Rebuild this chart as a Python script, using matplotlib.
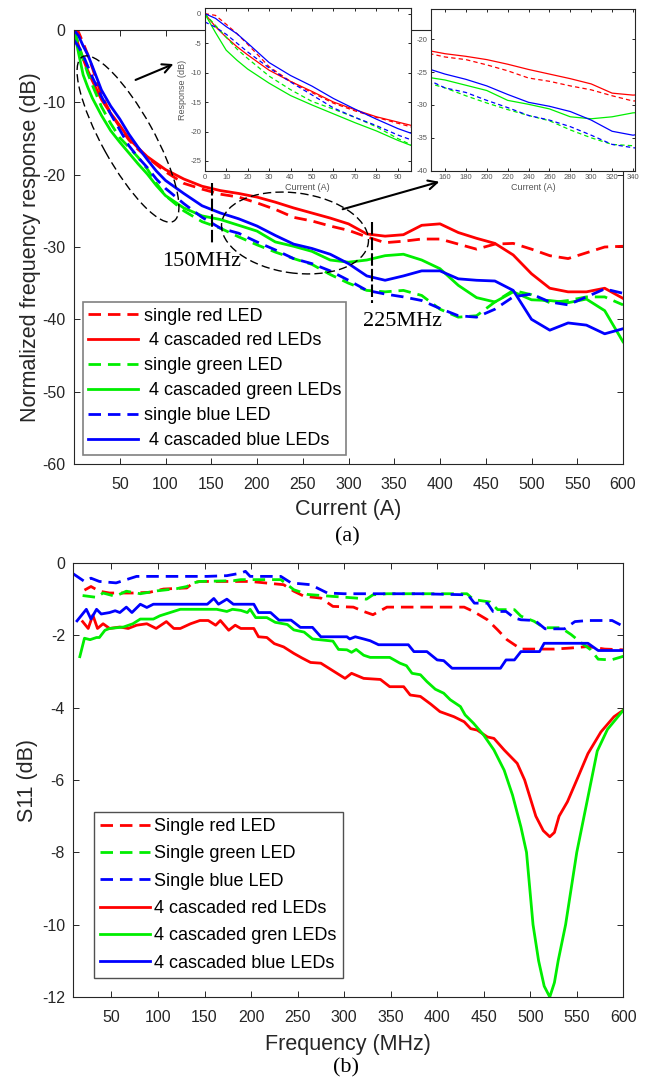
import matplotlib.pyplot as plt
from matplotlib.patches import Ellipse, FancyArrowPatch

plt.rcParams['font.family'] = ['Liberation Sans', 'DejaVu Sans']
plt.rcParams['axes.unicode_minus'] = False

# (a) normalized frequency response, common x grid
current = [0, 5, 10, 15, 20, 30, 40, 50, 60, 70, 80, 90, 100, 120, 140, 160, 180, 200,
           220, 240, 260, 280, 300, 320, 340, 360, 380, 400, 420, 440, 460, 480, 500,
           520, 540, 560, 580, 600]
red_single = [0, -0.3, -1.8, -3.4, -5.2, -9.0, -11.5, -13.4, -15.2, -16.5, -17.6, -18.6,
              -19.6, -21.2, -22.0, -22.7, -23.1, -23.9, -24.8, -25.9, -26.4, -27.1, -27.7,
              -28.6, -29.4, -29.2, -28.9, -28.9, -29.6, -30.3, -29.6, -29.5, -30.3, -31.2,
              -31.6, -30.8, -30.0, -29.9]
red_casc = [0, -2.2, -4.0, -5.6, -7.0, -9.6, -11.5, -13.2, -15.0, -16.3, -17.5, -18.4,
            -19.3, -20.6, -21.6, -22.2, -22.6, -23.1, -23.8, -24.6, -25.3, -26.0, -26.8,
            -28.2, -28.5, -28.3, -27.0, -26.8, -28.0, -28.8, -29.5, -31.1, -33.7, -35.7,
            -36.2, -36.2, -35.7, -37.1]
green_single = [0, -2.0, -4.0, -6.0, -7.6, -10.6, -12.9, -14.9, -16.2, -17.6, -19.2, -21.2,
                -22.9, -25.0, -26.5, -27.4, -28.6, -29.7, -30.7, -31.6, -32.4, -33.8, -35.0,
                -36.0, -36.2, -36.0, -36.7, -38.6, -39.7, -39.5, -37.6, -36.0, -36.6, -37.7,
                -37.4, -36.9, -36.9, -38.0]
green_casc = [0, -3.2, -6.2, -7.9, -9.4, -11.8, -13.9, -15.5, -17.0, -18.5, -19.9, -21.5,
              -22.9, -24.6, -25.7, -26.2, -27.0, -27.8, -29.3, -29.9, -30.6, -31.8, -32.1,
              -31.8, -31.2, -31.0, -31.8, -33.0, -35.3, -37.0, -37.6, -36.2, -37.3, -37.4,
              -37.7, -37.2, -38.8, -43.1]
blue_single = [-1.4, -2.3, -3.5, -5.0, -6.5, -9.2, -11.6, -13.8, -16.0, -17.6, -19.0, -20.6,
               -21.9, -24.0, -25.9, -27.4, -28.1, -29.3, -30.4, -31.6, -32.3, -33.3, -34.6,
               -36.0, -36.5, -36.9, -37.4, -38.5, -39.5, -39.7, -38.6, -36.9, -36.5, -37.6,
               -38.0, -36.9, -35.8, -36.4]
blue_casc = [0, -0.8, -2.2, -3.4, -5.0, -8.3, -10.5, -12.3, -14.4, -16.2, -17.9, -19.5,
             -20.8, -22.6, -24.3, -25.3, -26.1, -27.1, -28.4, -29.6, -30.2, -31.0, -32.3,
             -34.0, -34.6, -34.0, -33.3, -33.3, -34.4, -34.6, -34.7, -36.0, -40.0, -41.5,
             -40.5, -40.8, -42.0, -41.3]

# (b) S11
f_red_single = [21, 28, 37, 48, 73, 91, 106, 131, 138, 145, 199, 235, 246, 257, 275, 288,
                310, 321, 331, 346, 429, 439, 454, 465, 475, 490, 526, 544, 562, 580, 600]
s_red_single = [-0.75, -0.65, -0.78, -0.83, -0.83, -0.81, -0.72, -0.69, -0.54, -0.51, -0.51,
                -0.60, -0.78, -0.92, -0.97, -1.20, -1.22, -1.34, -1.43, -1.22, -1.22, -1.34,
                -1.57, -1.85, -2.12, -2.38, -2.38, -2.35, -2.31, -2.38, -2.40]
f_green_single = [19, 34, 41, 54, 66, 81, 99, 120, 131, 138, 145, 181, 189, 232, 246, 261,
                  286, 313, 324, 331, 346, 432, 439, 457, 465, 483, 490, 504, 515, 533, 544,
                  555, 565, 573, 587, 600]
s_green_single = [-0.90, -0.95, -0.83, -0.92, -0.78, -0.85, -0.77, -0.71, -0.65, -0.55, -0.51,
                  -0.49, -0.46, -0.46, -0.74, -0.87, -0.92, -0.97, -1.00, -0.88, -0.85, -0.85,
                  -1.01, -1.08, -1.29, -1.29, -1.47, -1.61, -1.79, -1.79, -1.98, -2.21, -2.40,
                  -2.66, -2.68, -2.58]
f_blue_single = [9, 21, 28, 37, 55, 66, 77, 153, 174, 189, 194, 199, 232, 243, 264, 282, 300,
                 325, 382, 433, 440, 454, 460, 474, 483, 490, 505, 516, 537, 548, 562, 588, 597]
s_blue_single = [-0.30, -0.51, -0.42, -0.51, -0.55, -0.46, -0.37, -0.37, -0.35, -0.28, -0.23,
                 -0.37, -0.37, -0.55, -0.60, -0.83, -0.85, -0.85, -0.85, -0.88, -1.11, -1.11,
                 -1.34, -1.34, -1.52, -1.57, -1.59, -1.82, -1.82, -1.62, -1.59, -1.59, -1.71]
f_red_casc = [19, 25, 30, 35, 41, 48, 59, 68, 77, 88, 98, 109, 117, 124, 135, 145, 154, 162,
              167, 176, 183, 189, 203, 208, 217, 225, 235, 246, 255, 264, 275, 288, 301, 308,
              321, 339, 349, 364, 371, 382, 393, 403, 418, 429, 436, 443, 454, 461, 472, 486,
              494, 500, 506, 514, 521, 526, 531, 540, 550, 562, 576, 590, 600]
s_red_casc = [-1.62, -1.81, -1.44, -1.81, -1.68, -1.81, -1.77, -1.81, -1.72, -1.68, -1.81,
              -1.62, -1.81, -1.81, -1.68, -1.59, -1.59, -1.72, -1.59, -1.86, -1.72, -1.81,
              -1.81, -2.04, -2.06, -2.23, -2.32, -2.50, -2.63, -2.75, -2.77, -2.98, -3.19,
              -3.05, -3.19, -3.22, -3.42, -3.42, -3.65, -3.69, -3.90, -4.11, -4.25, -4.39,
              -4.58, -4.62, -4.81, -4.85, -5.17, -5.54, -6.00, -6.50, -7.00, -7.40, -7.57,
              -7.45, -7.00, -6.60, -6.00, -5.27, -4.67, -4.25, -4.07]
f_green_casc = [16, 21, 27, 34, 37, 43, 48, 63, 73, 81, 95, 102, 113, 124, 135, 145, 163, 174,
                180, 189, 196, 199, 205, 217, 226, 239, 246, 257, 266, 288, 294, 303, 308, 313,
                321, 328, 349, 360, 367, 373, 382, 389, 398, 407, 414, 425, 430, 439, 450, 461,
                472, 481, 490, 496, 503, 509, 515, 521, 526, 530, 538, 550, 561, 572, 583, 600]
s_green_casc = [-2.59, -2.08, -2.12, -2.06, -2.06, -1.86, -1.81, -1.77, -1.68, -1.55, -1.55,
                -1.46, -1.37, -1.28, -1.28, -1.28, -1.28, -1.34, -1.28, -1.31, -1.37, -1.28,
                -1.51, -1.51, -1.64, -1.70, -1.85, -1.91, -2.10, -2.16, -2.39, -2.40, -2.47,
                -2.39, -2.55, -2.61, -2.61, -2.77, -2.84, -3.05, -3.09, -3.28, -3.49, -3.60,
                -3.78, -3.97, -4.20, -4.43, -4.76, -5.17, -5.73, -6.42, -7.30, -8.00, -10.0,
                -11.0, -11.7, -12.0, -11.6, -11.0, -10.0, -8.0, -6.6, -5.2, -4.6, -4.07]
f_blue_casc = [13, 23, 28, 34, 39, 48, 54, 59, 66, 72, 81, 88, 95, 109, 153, 160, 165, 174,
               181, 203, 208, 221, 230, 243, 253, 266, 275, 303, 306, 312, 321, 328, 337, 369,
               375, 389, 400, 407, 416, 468, 474, 483, 490, 510, 515, 562, 573, 600]
s_blue_casc = [-1.60, -1.28, -1.55, -1.28, -1.41, -1.37, -1.32, -1.37, -1.22, -1.37, -1.14,
               -1.23, -1.14, -1.14, -1.14, -0.98, -1.14, -1.00, -1.14, -1.14, -1.37, -1.37,
               -1.58, -1.58, -1.78, -1.78, -2.04, -2.04, -2.10, -2.04, -2.10, -2.15, -2.26,
               -2.26, -2.45, -2.45, -2.68, -2.70, -2.91, -2.91, -2.68, -2.68, -2.45, -2.45,
               -2.22, -2.22, -2.42, -2.42]

RED, GREEN, BLUE = '#ff0000', '#00ee00', '#0000ff'
DASH = (4.5, 2.5)
GREY = '#262626'

W, H = 651, 1084
fig = plt.figure(figsize=(W / 100, H / 100), dpi=100)


def box(x0, y0, x1, y1):
    # pixel box (top-left origin) -> figure fraction
    return [x0 / W, 1 - y1 / H, (x1 - x0) / W, (y1 - y0) / H]


def style(ax, size, length, padx, pady, color=GREY):
    ax.tick_params(direction='in', top=True, right=True, length=length, width=0.7,
                   labelsize=size, colors=GREY, labelcolor=color)
    ax.tick_params(axis='x', pad=padx)
    ax.tick_params(axis='y', pad=pady)
    for s in ax.spines.values():
        s.set_linewidth(0.8)
        s.set_color(GREY)


# ---------- (a) ----------
ax_a = fig.add_axes(box(74, 30, 623, 464))
series_a = [(red_single, RED, True, 'single red LED'),
            (red_casc, RED, False, ' 4 cascaded red LEDs'),
            (green_single, GREEN, True, 'single green LED'),
            (green_casc, GREEN, False, ' 4 cascaded green LEDs'),
            (blue_single, BLUE, True, 'single blue LED'),
            (blue_casc, BLUE, False, ' 4 cascaded blue LEDs')]
for y, c, dashed, lab in series_a:
    kw = {'dashes': DASH} if dashed else {}
    ax_a.plot(current, y, color=c, lw=2.0, label=lab, **kw)
ax_a.set_xlim(0, 600)
ax_a.set_ylim(-60, 0)
ax_a.set_xticks(range(50, 601, 50))
ax_a.set_yticks(range(-60, 1, 10))
style(ax_a, 11.5, 4, 9.5, 6)
ax_a.set_xlabel('Current (A)', fontsize=15.5, color=GREY, labelpad=5)
ax_a.set_ylabel('Normalized frequency response (dB)', fontsize=15.5, color=GREY, labelpad=1)
leg = ax_a.legend(loc='upper left', bbox_to_anchor=(0.0158, 0.373), borderaxespad=0,
                  fontsize=13, handlelength=2.77, handletextpad=0.3, labelspacing=0.44,
                  borderpad=0.3, fancybox=False, edgecolor='#808080', framealpha=1)
leg.get_frame().set_linewidth(1.2)

# markers
marker_x = [151, 326]
marker_span = [(-21.2, -29.5), (-26.5, -37.8)]
for mx, (y0, y1) in zip(marker_x, marker_span):
    ax_a.plot([mx, mx], [y0, y1], color='black', lw=1.5, dashes=(6, 1.5))
fig.text(202 / W, 1 - 262 / H, '150MHz', family='Liberation Serif', fontsize=16,
         ha='center', va='center')
fig.text(403 / W, 1 - 322 / H, '225MHz', family='Liberation Serif', fontsize=16,
         ha='center', va='center')


def px(x, y):
    return (x / 100, (H - y) / 100)


tr = fig.dpi_scale_trans
for (cx, cy), a, b, ang in [((128, 139), 1.88, 0.52, -61), ((295, 233), 1.48, 0.80, -8)]:
    e = Ellipse(px(cx, cy), a, b, angle=ang, transform=tr, fill=False, edgecolor='black',
                lw=1.0, linestyle=(0, (6, 3)))
    fig.patches.append(e)
for p0, p1 in [((133, 81), (176, 63)), ((340, 210), (442, 181))]:
    ar = FancyArrowPatch(px(*p0), px(*p1), transform=tr, arrowstyle='->',
                         mutation_scale=16, lw=1.5, color='black')
    fig.patches.append(ar)

fig.text(347 / W, 1 - 537 / H, '(a)', family='Liberation Serif', fontsize=16,
         ha='center', va='center')

# insets
ins1 = fig.add_axes(box(204.7, 8.3, 410.7, 171))
ins2 = fig.add_axes(box(430.7, 9, 635.3, 170.7))
for ins in (ins1, ins2):
    for y, c, dashed, lab in series_a:
        kw = {'dashes': (3.5, 2.5)} if dashed else {}
        ins.plot(current, y, color=c, lw=0.9, **kw)
    style(ins, 5.5, 2, 2.5, 2.5, color='#555555')
    ins.set_xlabel('Current (A)', fontsize=6.5, color='#555555', labelpad=1)
ins1.set_xlim(0, 96)
ins1.set_ylim(-26.7, 0.9)
ins1.set_xticks(range(0, 91, 10))
ins1.set_yticks(range(-25, 1, 5))
ins1.set_ylabel('Response (dB)', fontsize=6.5, color='#555555', labelpad=2)
ins2.set_xlim(146.3, 342.2)
ins2.set_ylim(-40, -15.4)
ins2.set_xticks(range(160, 341, 20))
ins2.set_yticks(range(-40, -19, 5))

# ---------- (b) ----------
ax_b = fig.add_axes(box(73.3, 563, 623.3, 997))
series_b = [(f_red_single, s_red_single, RED, True, 'Single red LED'),
            (f_green_single, s_green_single, GREEN, True, 'Single green LED'),
            (f_blue_single, s_blue_single, BLUE, True, 'Single blue LED'),
            (f_red_casc, s_red_casc, RED, False, '4 cascaded red LEDs'),
            (f_green_casc, s_green_casc, GREEN, False, '4 cascaded gren LEDs'),
            (f_blue_casc, s_blue_casc, BLUE, False, '4 cascaded blue LEDs')]
for x, y, c, dashed, lab in series_b:
    kw = {'dashes': DASH} if dashed else {}
    ax_b.plot(x, y, color=c, lw=2.0, label=lab, **kw)
ax_b.set_xlim(9, 600)
ax_b.set_ylim(-12, 0)
ax_b.set_xticks(range(50, 601, 50))
ax_b.set_yticks(range(-12, 1, 2))
style(ax_b, 11.5, 4, 9.5, 6)
ax_b.set_xlabel('Frequency (MHz)', fontsize=15.5, color=GREY, labelpad=6)
ax_b.set_ylabel('S11 (dB)', fontsize=15.5, color=GREY, labelpad=3)
leg = ax_b.legend(loc='upper left', bbox_to_anchor=(0.0376, 0.4266), borderaxespad=0,
                  fontsize=13, handlelength=2.77, handletextpad=0.22, labelspacing=0.57,
                  borderpad=0.35, fancybox=False, edgecolor='#505050', framealpha=1)
leg.get_frame().set_linewidth(1.0)

fig.text(346 / W, 1 - 1068 / H, '(b)', family='Liberation Serif', fontsize=16,
         ha='center', va='center')

fig.savefig('out.png', dpi=100)
